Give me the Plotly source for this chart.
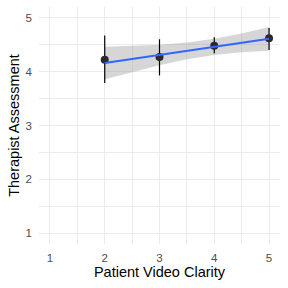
import plotly.graph_objects as go

# Observed means with error bars
clarity = [2, 3, 4, 5]
assessment = [4.22, 4.27, 4.48, 4.62]
err_low = [3.79, 3.93, 4.34, 4.40]
err_high = [4.67, 4.60, 4.64, 4.81]

# Linear fit and confidence band
fit_x = [2, 2.5, 3, 3.5, 4, 4.5, 5]
fit_y = [4.16, 4.235, 4.31, 4.385, 4.46, 4.535, 4.61]
band_upper = [4.46, 4.48, 4.50, 4.54, 4.61, 4.71, 4.83]
band_lower = [3.86, 3.99, 4.12, 4.23, 4.31, 4.36, 4.39]

tick_vals = [1, 2, 3, 4, 5]
tick_text = ["1", "2", "3", "4", "5"]

fig = go.Figure()

fig.add_trace(go.Scatter(
    x=fit_x + fit_x[::-1], y=band_upper + band_lower[::-1],
    fill="toself", fillcolor="rgba(153,153,153,0.4)", line=dict(width=0),
    mode="lines", hoverinfo="skip", showlegend=False))

fig.add_trace(go.Scatter(
    x=clarity, y=assessment, mode="markers",
    marker=dict(color="#2a2a2a", size=8),
    error_y=dict(type="data", symmetric=False,
                 array=[h - m for h, m in zip(err_high, assessment)],
                 arrayminus=[m - l for m, l in zip(assessment, err_low)],
                 color="black", thickness=1.2, width=0),
    showlegend=False))

fig.add_trace(go.Scatter(
    x=fit_x, y=fit_y, mode="lines",
    line=dict(color="#3366FF", width=2), showlegend=False))

axis_common = dict(
    showline=False, zeroline=False, ticks="", automargin=False,
    showgrid=True, gridcolor="#EBEBEB", gridwidth=1,
    tickfont=dict(family="Liberation Sans, Arial, sans-serif", size=11.5, color="#4D4D4D"),
    title_font=dict(family="Liberation Sans, Arial, sans-serif", size=14.5, color="black"),
    minor=dict(dtick=0.5, showgrid=True, gridcolor="#EBEBEB", gridwidth=0.8),
)

fig.update_layout(
    width=288, height=288,
    margin=dict(l=39, r=8, t=7, b=44),
    paper_bgcolor="white", plot_bgcolor="white",
    xaxis=dict(range=[0.8, 5.2], tickvals=tick_vals, ticktext=tick_text,
               ticklabelstandoff=5,
               title=dict(text="Patient Video Clarity", standoff=4), **axis_common),
    yaxis=dict(range=[0.8, 5.2], tickvals=tick_vals, ticktext=tick_text,
               ticklabelstandoff=6,
               title=dict(text="Therapist Assessment", standoff=2), **axis_common),
)

fig.write_html("out.html", config={"displayModeBar": False},
               post_script="document.body.style.margin='0';")
